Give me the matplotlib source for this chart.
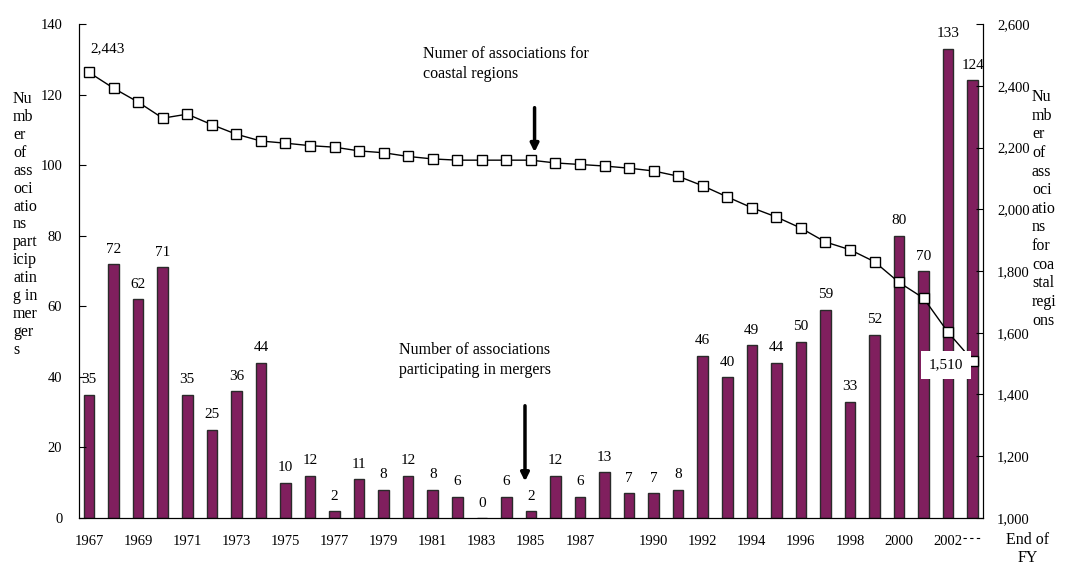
import matplotlib
matplotlib.use("Agg")
import matplotlib.pyplot as plt
from matplotlib.lines import Line2D
from matplotlib.ticker import FuncFormatter, MultipleLocator

plt.rcParams['font.family'] = ['Liberation Serif', 'DejaVu Serif']
plt.rcParams['font.size'] = 10.5

years = list(range(1967, 2004))
mergers = [35, 72, 62, 71, 35, 25, 36, 44, 10, 12, 2, 11, 8, 12, 8, 6, 0, 6, 2,
           12, 6, 13, 7, 7, 8, 46, 40, 49, 44, 50, 59, 33, 52, 80, 70, 133, 124]
coastal = [2443, 2392, 2347, 2295, 2308, 2274, 2243, 2221, 2214, 2206, 2201,
           2189, 2183, 2171, 2163, 2159, 2159, 2159, 2159, 2150, 2145, 2140,
           2133, 2124, 2107, 2076, 2040, 2005, 1975, 1939, 1894, 1869, 1830,
           1763, 1712, 1601, 1510]
tick_years = [1967, 1969, 1971, 1973, 1975, 1977, 1979, 1981, 1983, 1985, 1987,
              1990, 1992, 1994, 1996, 1998, 2000, 2002]

W, H = 1072, 567
big = 11.5
fig = plt.figure(figsize=(W / 100, H / 100), dpi=100)
ax = fig.add_axes([79 / W, 49 / H, 904 / W, 494 / H])
ax2 = ax.twinx()

# bars: mergers
ax.bar(years, mergers, width=0.43, color='#801f5e', edgecolor='#2a2a2a', linewidth=1)
for yr, v in zip(years, mergers):
    ax.annotate(str(v), (yr, v), xytext=(0, 6), textcoords='offset points',
                ha='center', va='bottom', fontsize=11)
ax.set_xlim(1966.59, 2003.42)
ax.set_ylim(0, 140)
ax.yaxis.set_major_locator(MultipleLocator(20))
ax.set_xticks(tick_years)
ax.tick_params(axis='x', length=0, pad=12)
ax.tick_params(axis='y', direction='in', length=5, pad=12)

# line: coastal associations
ax2.plot(years, coastal, color='black', lw=1, marker='s', markersize=6.5,
         markerfacecolor='white', markeredgecolor='black', markeredgewidth=1)
ax2.set_ylim(1000, 2600)
ax2.yaxis.set_major_locator(MultipleLocator(200))
ax2.yaxis.set_major_formatter(FuncFormatter(lambda v, p: f"{int(v):,}"))
ax2.tick_params(axis='y', direction='in', length=5, pad=10)

for a in (ax, ax2):
    a.spines['top'].set_visible(False)

ax2.annotate(f"{coastal[0]:,}", (years[0], coastal[0]), xytext=(13, 17),
             textcoords='offset points', ha='center', va='center', fontsize=11)
ax2.annotate(f"{coastal[-1]:,}", (years[-1], coastal[-1]), xytext=(-19, -3),
             textcoords='offset points', ha='center', va='center', zorder=10,
             fontsize=11,
             bbox=dict(boxstyle='square,pad=0.5', fc='white', ec='none'))

# annotations with arrows
ax.text(1980.6, 128.7, "Numer of associations for\ncoastal regions",
        ha='left', va='center', linespacing=1.37, fontsize=big)
ax2.annotate('', xy=(1985.15, 2176), xytext=(1985.15, 2338),
             arrowprops=dict(arrowstyle='-|>', lw=2.5, color='black', mutation_scale=12))
ax.text(1979.63, 44.8, "Number of associations\nparticipating in mergers",
        ha='left', va='center', linespacing=1.37, fontsize=big)
ax.annotate('', xy=(1984.76, 9.6), xytext=(1984.76, 32.6),
            arrowprops=dict(arrowstyle='-|>', lw=2.5, color='black', mutation_scale=12))

# axis titles, wrapped the way the original is
fig.text(13 / W, 1 - 91 / H,
         "Nu\nmb\ner\nof\nass\noci\natio\nns\npart\nicip\natin\ng in\nmer\nger\ns",
         ha='left', va='top', linespacing=1.16, fontsize=big)
fig.text(1032 / W, 1 - 89 / H,
         "Nu\nmb\ner\nof\nass\noci\natio\nns\nfor\ncoa\nstal\nregi\nons",
         ha='left', va='top', linespacing=1.22, fontsize=big)
fig.text(1028 / W, 1 - 549 / H, "End of\nFY", ha='center', va='center',
         multialignment='center', linespacing=1.15, fontsize=big)
fig.add_artist(Line2D([963 / W, 983 / W], [1 - 538 / H] * 2, ls=(0, (3, 3)),
                      lw=0.8, color='black'))

fig.savefig("out.png", dpi=100)
